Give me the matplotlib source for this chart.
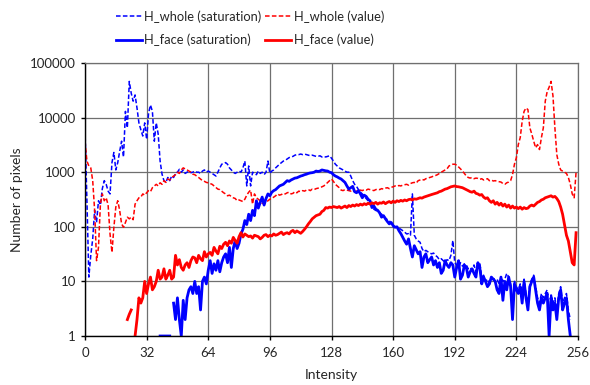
import numpy as np
import matplotlib
matplotlib.use("Agg")
import matplotlib.pyplot as plt

intensity = list(range(256))
x_ticks = [0, 32, 64, 96, 128, 160, 192, 224, 256]
y_ticks = [1, 10, 100, 1000, 10000, 100000]
y_tick_labels = ["1", "10", "100", "1000", "10000", "100000"]

whole_sat = [
    6000, 300, 12, 30, 60, 200, 120, 300, 250, 500,
    700, 600, 450, 400, 1500, 2300, 1100, 1500, 2400, 3700,
    1900, 13000, 6500, 46000, 28000, 20000, 26000, 15000, 8000, 6000,
    4600, 8000, 4000, 12000, 17000, 13000, 3700, 8000, 5000, 1600,
    920, 700, 650, 800, 700, 850, 800, 950, 1000, 1130,
    1000, 1100, 950, 1000, 1050, 980, 1000, 1050, 1000, 1000,
    950, 1050, 1100, 1000, 1050, 1000, 950, 900, 850, 1000,
    1200, 1400, 1450, 1500, 1400, 1200, 1100, 1000, 950, 1000,
    1050, 1000, 1200, 1600, 560, 1300, 560, 1000, 950, 900,
    1050, 950, 1000, 900, 1000, 1600, 950, 1050, 1100, 1200,
    1300, 1400, 1500, 1600, 1650, 1750, 1850, 1900, 1950, 2050,
    2100, 2100, 2150, 2100, 2150, 2100, 2050, 2000, 2050, 2000,
    1950, 1950, 2000, 1900, 1950, 1900, 1950, 2000, 1800, 1600,
    1400, 1300, 1200, 1150, 1100, 1050, 1000, 1000, 850, 700,
    600, 550, 480, 430, 400, 360, 330, 300, 280, 250,
    210, 200, 190, 180, 170, 160, 145, 135, 130, 115,
    100, 98, 100, 95, 90, 85, 80, 74, 75, 70,
    400, 70, 60, 55, 52, 40, 35, 37, 35, 33,
    32, 33, 30, 28, 25, 26, 24, 22, 25, 24,
    30, 56, 22, 20, 18, 22, 19, 21, 20, 17,
    18, 16, 20, 15, 22, 22, 12, 13, 10, 11,
    9, 12, 12, 10, 11, 9, 12, 10, 11, 14,
    12, 9, 4, 10, 8, 7, 9, 5, 11, 6,
    4, 9, 11, 13, 8, 5, 4, 6, 5, 6,
    7, 2, 6, 4, 5, 3, 6, 8, 4, 5,
    6, 3, 2, 0, 0, 0,
]

whole_val = [
    3700, 1600, 1300, 1200, 700, 200, 24, 42, 260, 400,
    300, 340, 250, 74, 34, 98, 230, 300, 200, 113,
    98, 120, 150, 140, 150, 135, 260, 300, 340, 350,
    400, 380, 420, 460, 440, 520, 560, 600, 560, 640,
    600, 700, 650, 750, 720, 800, 850, 900, 1000, 950,
    1100, 1200, 1150, 1100, 1050, 1000, 920, 900, 850, 800,
    750, 700, 680, 650, 640, 620, 600, 560, 520, 490,
    480, 450, 420, 400, 370, 380, 360, 340, 330, 300,
    310, 300, 290, 320, 380, 430, 470, 260, 400, 340,
    320, 300, 270, 260, 280, 300, 320, 330, 350, 370,
    400, 380, 390, 410, 400, 420, 430, 400, 410, 440,
    420, 450, 440, 460, 450, 470, 480, 460, 490, 480,
    500, 510, 520, 540, 560, 600, 650, 700, 750, 680,
    600, 560, 520, 470, 460, 480, 470, 460, 450, 470,
    440, 450, 460, 470, 460, 480, 470, 490, 480, 470,
    460, 480, 490, 480, 500, 490, 510, 520, 500, 530,
    540, 560, 550, 570, 560, 580, 590, 600, 580, 620,
    640, 650, 630, 700, 720, 740, 720, 760, 780, 800,
    820, 850, 870, 900, 950, 1000, 1050, 1100, 1150, 1300,
    1350, 1400, 1400, 1350, 1250, 1150, 1050, 950, 850, 800,
    780, 800, 760, 780, 770, 740, 760, 720, 740, 760,
    700, 720, 690, 700, 680, 670, 660, 620, 600, 640,
    660, 700, 900, 1400, 1850, 3200, 4300, 8500, 13000, 15000,
    14000, 6500, 5000, 3700, 2800, 3200, 2600, 4300, 6500, 20000,
    30000, 36000, 46000, 25000, 6500, 2100, 1400, 1100, 1050, 1000,
    950, 800, 600, 400, 340, 1000,
]

face_sat = [
    0, 0, 0, 0, 0, 0, 0, 0, 0, 0,
    0, 0, 0, 0, 0, 0, 0, 0, 0, 0,
    0, 0, 0, 0, 0, 0, 0, 0, 0, 0,
    0, 0, 0, 0, 0, 0, 0, 0, 0, 1,
    1, 1, 1, 1, 1, 0, 4, 2, 5, 2,
    1, 4.5, 2, 5, 7, 8, 6, 10, 6, 8,
    3, 10, 12, 9, 16, 24, 14, 21, 16, 24,
    15, 22, 28, 32, 22, 42, 18, 40, 56, 40,
    50, 74, 90, 130, 110, 170, 130, 200, 160, 300,
    220, 280, 350, 250, 330, 400, 370, 430, 460, 480,
    520, 560, 580, 600, 650, 700, 680, 720, 750, 780,
    790, 820, 850, 870, 900, 920, 950, 970, 980, 1000,
    1050, 1030, 1050, 1100, 1080, 1060, 1050, 1000, 980, 900,
    850, 820, 780, 750, 700, 650, 560, 490, 520, 550,
    440, 420, 460, 400, 340, 380, 360, 320, 300, 225,
    240, 210, 200, 180, 150, 160, 140, 125, 113, 120,
    105, 98, 100, 85, 75, 64, 55, 48, 60, 40,
    28, 45, 38, 32, 35, 18, 28, 32, 22, 25,
    28, 20, 24, 18, 22, 14, 16, 24, 20, 18,
    22, 20, 12, 18, 24, 11, 13, 20, 18, 12,
    15, 17, 14, 12, 22, 18, 9, 12, 10, 8,
    9, 12, 11, 10, 7, 6, 12, 4.5, 10, 7,
    12, 8, 2, 9, 7, 6, 8, 4, 10, 5,
    3, 8, 10, 12, 7, 4, 3, 5, 4, 5,
    6, 1, 5, 3, 4, 2, 5, 7, 3, 4,
    5, 2, 1, 0, 0, 0,
]

face_val = [
    0, 0, 0, 0, 0, 0, 0, 0, 0, 0,
    0, 0, 0, 0, 0, 0, 0, 0, 0, 0,
    0, 0, 2, 2.5, 3, 0, 1, 2, 5, 4,
    5, 10, 6, 9, 12, 7, 8, 10, 16, 11,
    12, 17, 11, 13, 16, 11, 12, 30, 20, 25,
    18, 16, 20, 22, 18, 24, 28, 27, 22, 30,
    26, 24, 35, 28, 32, 34, 30, 42, 36, 32,
    44, 40, 48, 52, 45, 55, 50, 64, 56, 50,
    66, 78, 65, 74, 70, 66, 68, 62, 70, 68,
    66, 60, 64, 70, 72, 66, 70, 68, 74, 70,
    72, 76, 80, 72, 76, 78, 74, 82, 86, 78,
    84, 80, 76, 82, 90, 100, 113, 125, 140, 150,
    160, 165, 170, 190, 200, 225, 220, 230, 225, 235,
    230, 225, 235, 220, 230, 240, 225, 245, 235, 250,
    240, 255, 245, 260, 250, 265, 255, 270, 260, 275,
    265, 280, 260, 275, 270, 285, 265, 280, 290, 275,
    295, 280, 300, 290, 305, 295, 310, 300, 315, 320,
    310, 325, 320, 330, 340, 335, 350, 360, 370, 380,
    390, 400, 410, 420, 440, 450, 470, 490, 500, 520,
    540, 550, 560, 545, 540, 530, 520, 500, 480, 460,
    440, 430, 450, 410, 400, 380, 390, 350, 330, 340,
    300, 280, 300, 260, 280, 250, 270, 240, 260, 230,
    250, 220, 240, 220, 230, 215, 230, 210, 225, 215,
    220, 240, 250, 240, 260, 280, 290, 310, 320, 340,
    350, 360, 370, 350, 360, 330, 290, 230, 170, 110,
    70, 55, 35, 22, 20, 78,
]

labels = ["H_whole (saturation)", "H_whole (value)",
          "H_face (saturation)", "H_face (value)"]

plt.rcParams['font.family'] = ['Lato', 'DejaVu Sans']
plt.rcParams['font.size'] = 9

def pos(v):
    a = np.asarray(v, dtype=float)
    return np.where(a > 0, a, np.nan)

fig = plt.figure(figsize=(5.9, 3.85), dpi=100)
ax = fig.add_axes([85 / 590, 1 - 336 / 385, (578 - 85) / 590, (336 - 63) / 385])

grid_c = '#6f6f6f'
l1, = ax.plot(intensity, pos(whole_sat), color='#0000ff', lw=1.1, ls=(0, (3, 1.5)), label=labels[0])
l2, = ax.plot(intensity, pos(whole_val), color='#ff0000', lw=1.1, ls=(0, (3, 1.5)), label=labels[1])
l3, = ax.plot(intensity, pos(face_sat), color='#0000ff', lw=2.0, label=labels[2])
l4, = ax.plot(intensity, pos(face_val), color='#ff0000', lw=2.0, label=labels[3])

ax.set_yscale('log')
ax.set_xlim(0, 256)
ax.set_ylim(1, 100000)
ax.set_xticks(x_ticks)
ax.set_xticklabels([str(t) for t in x_ticks])
ax.set_yticks(y_ticks)
ax.set_yticklabels(y_tick_labels)
ax.yaxis.set_minor_locator(matplotlib.ticker.NullLocator())
ax.grid(True, color=grid_c, lw=0.9)
ax.set_axisbelow(True)
for s in ['top', 'right']:
    ax.spines[s].set_color(grid_c)
    ax.spines[s].set_linewidth(0.9)
for s in ['left', 'bottom']:
    ax.spines[s].set_color('black')
    ax.spines[s].set_linewidth(1.0)
ax.tick_params(direction='out', length=3, width=1, colors='black', labelcolor='#262626', labelsize=9.5)
ax.tick_params(axis='x', pad=5)
ax.set_xlabel("Intensity", color='#262626', fontsize=10, labelpad=7)
ax.set_ylabel("Number of pixels", color='#262626', fontsize=10, labelpad=5)

fig.legend([l1, l3, l2, l4], [labels[0], labels[2], labels[1], labels[3]],
           ncol=2, loc='center', bbox_to_anchor=(250 / 590, 1 - 28 / 385),
           frameon=False, handlelength=2.0, handletextpad=0.2,
           columnspacing=0.3, labelspacing=0.85, labelcolor='#262626',
           fontsize=9.3)

fig.savefig("out.png", dpi=100)
